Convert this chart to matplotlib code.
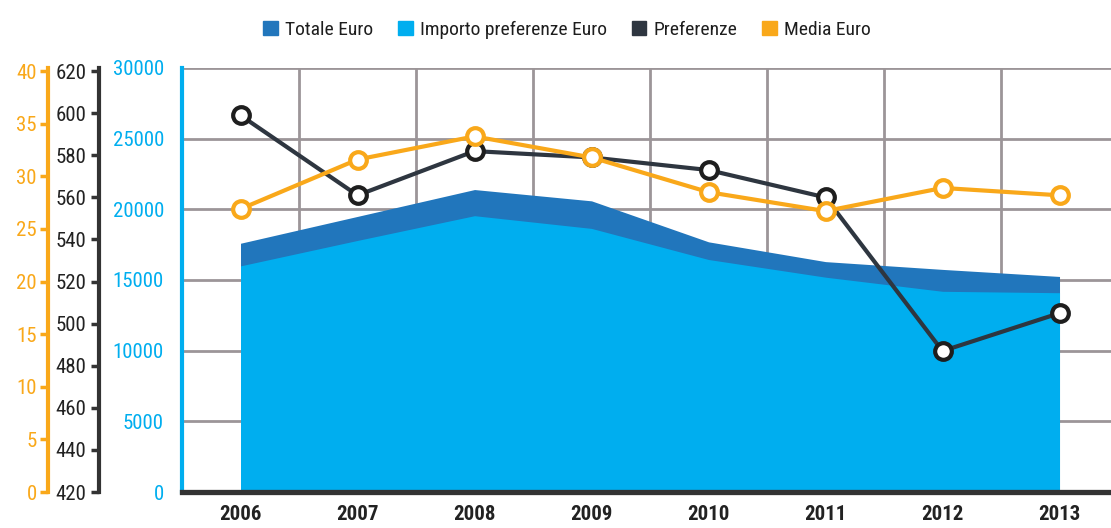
import numpy as np
import matplotlib.pyplot as plt
from matplotlib.patches import Patch

plt.rcParams['font.family'] = ['Roboto Condensed', 'Archivo Narrow', 'DejaVu Sans']

years = ['2006', '2007', '2008', '2009', '2010', '2011', '2012', '2013']
totale_euro = [17600, 19500, 21400, 20600, 17700, 16300, 15750, 15250]
importo_pref = [16000, 17800, 19550, 18650, 16450, 15200, 14200, 14100]
preferenze = [599, 561, 582, 579, 573, 560, 487, 505]
media_euro = [26.9, 31.6, 33.8, 31.8, 28.5, 26.7, 28.9, 28.2]

c_tot = '#2176bc'
c_imp = '#00aeef'
c_pref = '#2e3640'
c_media = '#f9a81a'
c_grid = '#9c9598'

W, H = 1111, 528
fig = plt.figure(figsize=(W / 100, H / 100), dpi=100)
ax = fig.add_axes([182 / W, 1 - 492 / H, 1 - 182 / W, (492 - 68) / H])

x = np.arange(len(years))
ax.fill_between(x, totale_euro, color=c_tot, lw=0, zorder=2)
ax.fill_between(x, importo_pref, color=c_imp, lw=0, zorder=2)
ax.set_xlim(-0.5, 7.44)
ax.set_ylim(0, 30000)

ax.set_yticks(np.arange(0, 30001, 5000))
ax.tick_params(axis='y', length=0, pad=13, labelsize=15, labelcolor=c_imp)
ax.set_xticks(x)
ax.set_xticklabels(years, fontweight='bold')
ax.tick_params(axis='x', length=0, pad=9, labelsize=15, labelcolor='#222222')
ax.set_xticks(np.arange(0.5, 7, 1), minor=True)
ax.tick_params(axis='x', which='minor', length=0)
ax.grid(True, axis='y', color=c_grid, lw=2, zorder=0)
ax.grid(True, axis='x', which='minor', color=c_grid, lw=2, zorder=0)
ax.set_axisbelow(True)
for s in ['top', 'right']:
    ax.spines[s].set_visible(False)
ax.spines['left'].set_color(c_imp)
ax.spines['left'].set_linewidth(3)
ax.spines['bottom'].set_color('#333333')
ax.spines['bottom'].set_linewidth(3.8)
ax.spines['bottom'].set_zorder(5)

# Preferenze axis
ax2 = ax.twinx()
ax2.plot(x, preferenze, color=c_pref, lw=3, marker='o', ms=12,
         mfc='white', mec='#1e1e1e', mew=3, zorder=3)
ax2.set_ylim(420, 621.5)
ax2.set_yticks(np.arange(420, 621, 20))
ax2.yaxis.tick_left()
for s in ['top', 'right', 'bottom']:
    ax2.spines[s].set_visible(False)
ax2.spines['left'].set_visible(True)
ax2.spines['left'].set_position(('outward', 60))
ax2.spines['left'].set_color('#333333')
ax2.spines['left'].set_linewidth(3)
ax2.tick_params(axis='y', direction='out', length=6, width=2.5, color='#333333',
                pad=3, labelsize=15, labelcolor='#222222')

# Media Euro axis
ax3 = ax.twinx()
ax3.plot(x, media_euro, color=c_media, lw=3, marker='o', ms=12,
         mfc='white', mec=c_media, mew=3, zorder=3)
ax3.set_ylim(0, 40.3)
ax3.set_yticks(np.arange(0, 41, 5))
ax3.yaxis.tick_left()
for s in ['top', 'right', 'bottom']:
    ax3.spines[s].set_visible(False)
ax3.spines['left'].set_visible(True)
ax3.spines['left'].set_position(('outward', 96.5))
ax3.spines['left'].set_color(c_media)
ax3.spines['left'].set_linewidth(3)
ax3.tick_params(axis='y', direction='out', length=6, width=2.5, color=c_media,
                pad=2, labelsize=15, labelcolor=c_media)

handles = [Patch(color=c_tot, label='Totale Euro'),
           Patch(color=c_imp, label='Importo preferenze Euro'),
           Patch(color=c_pref, label='Preferenze'),
           Patch(color=c_media, label='Media Euro')]
fig.legend(handles=handles, loc='center', bbox_to_anchor=(567 / W, 1 - 30 / H),
           ncol=4, frameon=False, handlelength=0.75, handleheight=0.75,
           handletextpad=0.35, columnspacing=1.3, labelcolor='#1e1e1e',
           prop={'size': 14, 'weight': 'normal'})

fig.savefig('out.png', dpi=100)
